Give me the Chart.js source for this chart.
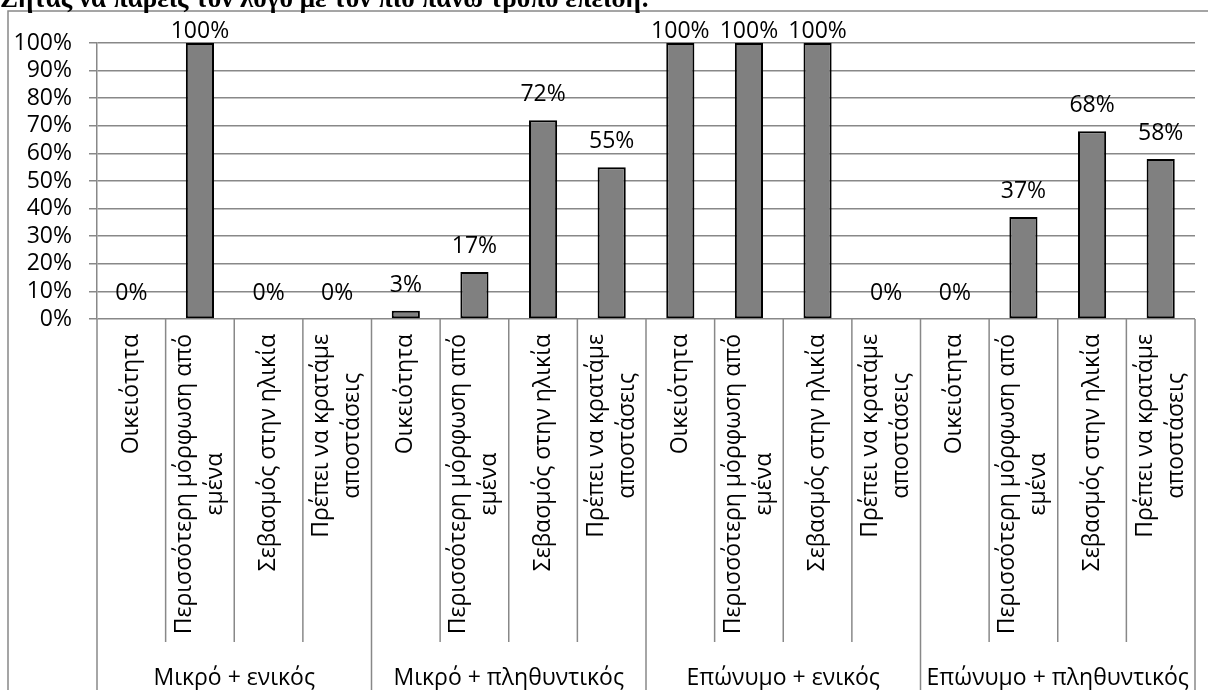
<!DOCTYPE html>
<html>
<head>
<meta charset="utf-8">
<script src="https://cdn.jsdelivr.net/npm/chart.js@4.4.1/dist/chart.umd.min.js"></script>
<style>
    html, body { margin: 0; padding: 0; background: #fff; overflow: hidden; }
    #wrap { position: relative; width: 1208px; height: 690px; }
</style>
</head>
<body>
<div id="wrap"><canvas id="chart" width="1208" height="690"></canvas></div>
<script>
// Τίτλος (κομμένος στο πάνω μέρος όπως στο πρωτότυπο)
const titleText = 'Ζητάς να πάρεις τον λόγο με τον πιο πάνω τρόπο επειδή:';

// Κατηγορίες
const groups = ['Μικρό + ενικός', 'Μικρό + πληθυντικός', 'Επώνυμο + ενικός', 'Επώνυμο + πληθυντικός'];
const reasons = [
    ['Οικειότητα'],
    ['Περισσότερη μόρφωση από', 'εμένα'],
    ['Σεβασμός στην ηλικία'],
    ['Πρέπει να κρατάμε', 'αποστάσεις']
];

// Τιμές (%) ανά ομάδα
const mikroEnikos = [0, 100, 0, 0];
const mikroPlithyntikos = [3, 17, 72, 55];
const eponymoEnikos = [100, 100, 100, 0];
const eponymoPlithyntikos = [0, 37, 68, 58];

const yTicks = [0, 10, 20, 30, 40, 50, 60, 70, 80, 90, 100];

const values = [...mikroEnikos, ...mikroPlithyntikos, ...eponymoEnikos, ...eponymoPlithyntikos];
const labels = [];
groups.forEach(g => reasons.forEach(r => labels.push(r)));

const FONT = "'Open Sans'";
const GRID = '#888888';

Chart.defaults.font.family = FONT;
Chart.defaults.font.size = 23;
Chart.defaults.color = '#000';

const tablePlugin = {
    id: 'table',
    beforeDraw(chart) {
        const ctx = chart.ctx;
        ctx.save();
        ctx.strokeStyle = GRID;
        ctx.lineWidth = 1.5;
        ctx.beginPath();
        ctx.moveTo(8, 700);
        ctx.lineTo(8, 11);
        ctx.lineTo(1210, 11);
        ctx.stroke();
        ctx.restore();
    },
    afterDraw(chart) {
        const { ctx, chartArea: a, scales: { x } } = chart;
        const n = labels.length;
        const bounds = [];
        for (let i = 0; i <= n; i++) {
            if (i === 0) bounds.push(a.left);
            else if (i === n) bounds.push(a.right);
            else bounds.push((x.getPixelForValue(i - 1) + x.getPixelForValue(i)) / 2);
        }

        ctx.save();
        // Διαχωριστικές γραμμές
        ctx.strokeStyle = GRID;
        ctx.lineWidth = 1.5;
        bounds.forEach((bx, i) => {
            ctx.beginPath();
            ctx.moveTo(bx, a.bottom);
            ctx.lineTo(bx, i % 4 === 0 ? 700 : 642);
            ctx.stroke();
        });

        // Ετικέτες κατηγοριών (περιστραμμένες)
        ctx.fillStyle = '#000';
        ctx.font = '23px ' + FONT;
        ctx.textAlign = 'center';
        ctx.textBaseline = 'middle';
        labels.forEach((lines, i) => {
            const cx = x.getPixelForValue(i);
            const maxW = Math.max(...lines.map(l => ctx.measureText(l).width));
            ctx.save();
            ctx.translate(cx, 334 + maxW / 2);
            ctx.rotate(-Math.PI / 2);
            lines.forEach((l, k) => {
                ctx.fillText(l, 0, (k - (lines.length - 1) / 2) * 31);
            });
            ctx.restore();
        });

        // Ετικέτες ομάδων
        ctx.textBaseline = 'alphabetic';
        groups.forEach((g, i) => {
            const gx = (bounds[i * 4] + bounds[i * 4 + 4]) / 2;
            ctx.fillText(g, gx, 685);
        });

        // Ετικέτες τιμών
        const meta = chart.getDatasetMeta(0);
        meta.data.forEach((bar, i) => {
            const by = Math.max(bar.y - 19, 38);
            ctx.fillText(values[i] + '%', bar.x, by);
        });

        // Τίτλος
        ctx.textAlign = 'left';
        ctx.font = 'bold 27px "Liberation Serif"';
        ctx.fillText(titleText, 0, 7);
        ctx.restore();
    }
};

new Chart(document.getElementById('chart'), {
    type: 'bar',
    data: {
        labels: labels,
        datasets: [{
            data: values,
            backgroundColor: '#808080',
            borderColor: '#000',
            borderWidth: 2,
            borderSkipped: false,
            categoryPercentage: 1,
            barPercentage: 0.41
        }]
    },
    options: {
        responsive: false,
        animation: false,
        layout: { padding: { top: 43, right: 13, left: 0, bottom: 0 } },
        plugins: {
            legend: { display: false },
            tooltip: { enabled: false }
        },
        scales: {
            x: {
                ticks: { display: false },
                grid: { display: false },
                border: { display: false },
                afterFit: scale => { scale.height = 371; }
            },
            y: {
                min: 0,
                max: 100,
                afterBuildTicks: scale => { scale.ticks = yTicks.map(v => ({ value: v })); },
                ticks: {
                    autoSkip: false,
                    padding: 17,
                    callback: v => v + '%'
                },
                grid: { color: GRID, lineWidth: 1.5, tickLength: 8 },
                border: { color: GRID, width: 1.5 },
                afterFit: scale => { scale.width = 97; }
            }
        }
    },
    plugins: [tablePlugin]
});
</script>
</body>
</html>
